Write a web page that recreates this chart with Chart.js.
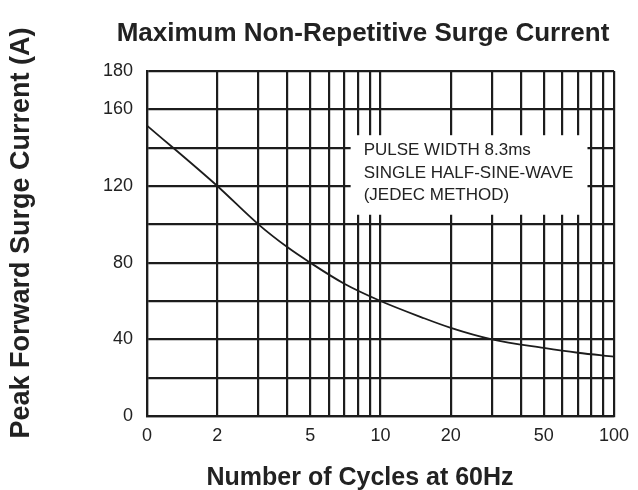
<!DOCTYPE html>
<html><head><meta charset="utf-8">
<script src="https://cdn.jsdelivr.net/npm/chart.js@4/dist/chart.umd.min.js"></script>
<style>html,body{margin:0;padding:0;background:#fff;} canvas{display:block;}</style>
</head><body>
<canvas id="c" width="638" height="490"></canvas>
<script>
const chartTitle = 'Maximum Non-Repetitive Surge Current';
const xAxisTitle = 'Number of Cycles at 60Hz';
const yAxisTitle = 'Peak Forward Surge Current (A)';
const cycles = [1, 2, 3, 4, 5, 7, 10, 15, 20, 30, 50, 70, 100];
const surgeCurrent = [151.5, 120, 100, 88, 80, 69, 60, 51.5, 46, 40, 35.5, 33, 31];
const xGridValues = [1, 2, 3, 4, 5, 6, 7, 8, 9, 10, 20, 30, 40, 50, 60, 70, 80, 90, 100];
const xTickValues = [1, 2, 5, 10, 20, 50, 100];
const xTickLabels = ['0', '2', '5', '10', '20', '50', '100'];
const yTickValues = [0, 40, 80, 120, 160, 180];
const noteLines = ['PULSE WIDTH 8.3ms', 'SINGLE HALF-SINE-WAVE', '(JEDEC METHOD)'];

const INK = '#1c1c1c';
const FONT = '"Liberation Sans", Arial, Helvetica, sans-serif';

const decorPlugin = {
  id: 'decor',
  afterDatasetsDraw(chart) {
    const ctx = chart.ctx, x = chart.scales.x, y = chart.scales.y;
    const l = x.getPixelForValue(7.45), r = x.getPixelForValue(77);
    const t = y.getPixelForValue(146.5), b = y.getPixelForValue(105);
    ctx.save();
    ctx.fillStyle = '#fff';
    ctx.fillRect(l, t, r - l, b - t);
    ctx.fillStyle = '#222';
    ctx.font = '17px ' + FONT;
    ctx.textAlign = 'left';
    ctx.textBaseline = 'alphabetic';
    noteLines.forEach((s, i) => ctx.fillText(s, l + 13, t + 20 + i * 22.5));
    ctx.restore();
  },
  afterDraw(chart) {
    const ctx = chart.ctx;
    ctx.save();
    ctx.fillStyle = '#222';
    ctx.textAlign = 'center';
    ctx.textBaseline = 'alphabetic';
    ctx.font = 'bold 26px ' + FONT;
    ctx.fillText(chartTitle, 363, 41);
    ctx.font = 'bold 25px ' + FONT;
    ctx.fillText(xAxisTitle, 360, 485);
    ctx.translate(22, 233);
    ctx.rotate(-Math.PI / 2);
    ctx.textBaseline = 'middle';
    ctx.font = 'bold 27px ' + FONT;
    ctx.fillText(yAxisTitle, 0, 0);
    ctx.restore();
  }
};

new Chart(document.getElementById('c'), {
  type: 'line',
  data: {
    datasets: [{
      data: cycles.map((c, i) => ({ x: c, y: surgeCurrent[i] })),
      borderColor: INK,
      borderWidth: 1.8,
      pointRadius: 0,
      fill: false,
      cubicInterpolationMode: 'monotone'
    }]
  },
  options: {
    responsive: false,
    devicePixelRatio: 1,
    animation: false,
    layout: { padding: { top: 71, right: 18, left: 0, bottom: 0 } },
    plugins: { legend: { display: false }, tooltip: { enabled: false }, title: { display: false } },
    scales: {
      x: {
        type: 'logarithmic',
        min: 1, max: 100,
        afterBuildTicks(scale) { scale.ticks = xGridValues.map(v => ({ value: v })); },
        afterFit(scale) { scale.height = 74; },
        grid: { color: INK, lineWidth: 2.2, drawTicks: false },
        border: { display: true, color: INK, width: 2.2 },
        ticks: {
          autoSkip: false, maxRotation: 0, padding: 9,
          color: '#222', font: { family: FONT, size: 18 },
          callback(v) { const i = xTickValues.indexOf(v); return i >= 0 ? xTickLabels[i] : ''; }
        }
      },
      y: {
        min: 0, max: 180,
        afterFit(scale) { scale.width = 147; },
        grid: { color: INK, lineWidth: 2.2, drawTicks: false },
        border: { display: true, color: INK, width: 2.2 },
        ticks: {
          stepSize: 20, padding: 14,
          color: '#222', font: { family: FONT, size: 18 },
          callback(v) { return yTickValues.includes(v) ? String(v) : ''; }
        }
      }
    }
  },
  plugins: [decorPlugin]
});
</script>
</body></html>
